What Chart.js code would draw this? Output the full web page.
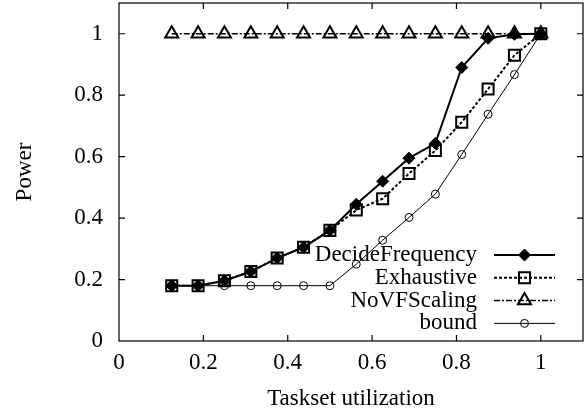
<!DOCTYPE html>
<html lang="en">
<head>
  <meta charset="UTF-8">
  <title>Power vs Taskset utilization</title>
  <script src="https://cdn.jsdelivr.net/npm/chart.js"></script>
  <style>
    body { margin: 0; background: #fff; }
    #wrap { width: 588px; height: 414px; }
  </style>
</head>
<body>
<div id="wrap"><canvas id="powerChart"></canvas></div>

<script>
  const utilization = [0.125, 0.1875, 0.25, 0.3125, 0.375, 0.4375, 0.5, 0.5625, 0.625, 0.6875, 0.75, 0.8125, 0.875, 0.9375, 1.0];
  const decideFrequency = [0.18, 0.18, 0.196, 0.226, 0.27, 0.305, 0.36, 0.445, 0.52, 0.595, 0.643, 0.89, 0.985, 0.998, 1.0];
  const exhaustive = [0.18, 0.18, 0.196, 0.226, 0.27, 0.305, 0.36, 0.426, 0.463, 0.545, 0.62, 0.712, 0.82, 0.93, 1.0];
  const noVFScaling = [1, 1, 1, 1, 1, 1, 1, 1, 1, 1, 1, 1, 1, 1, 1];
  const bound = [0.18, 0.18, 0.18, 0.18, 0.18, 0.18, 0.18, 0.25, 0.328, 0.402, 0.478, 0.607, 0.738, 0.867, 1.0];
  const xTicks = [0, 0.2, 0.4, 0.6, 0.8, 1];
  const yTicks = [0, 0.2, 0.4, 0.6, 0.8, 1];

  const FONT = 'Liberation Serif, Times New Roman, serif';
  const pts = ys => utilization.map((x, i) => ({ x: x, y: ys[i] }));

  // gnuplot style box: frame plus inward ticks on all four sides
  const framePlugin = {
    id: 'frame',
    afterDatasetsDraw(chart) {
      const { ctx, chartArea: a, scales } = chart;
      ctx.save();
      ctx.strokeStyle = '#000';
      ctx.lineWidth = 1.2;
      ctx.strokeRect(a.left, a.top, a.right - a.left, a.bottom - a.top);
      const len = 6;
      ctx.beginPath();
      xTicks.slice(1).forEach(v => {
        const px = scales.x.getPixelForValue(v);
        ctx.moveTo(px, a.bottom); ctx.lineTo(px, a.bottom - len);
        ctx.moveTo(px, a.top); ctx.lineTo(px, a.top + len);
      });
      yTicks.slice(1).forEach(v => {
        const py = scales.y.getPixelForValue(v);
        ctx.moveTo(a.left, py); ctx.lineTo(a.left + len, py);
        ctx.moveTo(a.right, py); ctx.lineTo(a.right - len, py);
      });
      ctx.stroke();
      ctx.restore();
    }
  };

  // legend with text on the left and the line sample on the right
  const keyPlugin = {
    id: 'key',
    afterDatasetsDraw(chart) {
      const { ctx, chartArea: a } = chart;
      const textRight = a.right - 106;
      const x0 = a.right - 89, x1 = a.right - 28;
      let y = a.bottom - 86;
      ctx.save();
      ctx.font = '23px ' + FONT;
      ctx.textAlign = 'right';
      ctx.textBaseline = 'middle';
      chart.data.datasets.forEach(ds => {
        ctx.fillStyle = '#000';
        ctx.fillText(ds.label, textRight, y);
        ctx.strokeStyle = '#000';
        ctx.lineWidth = ds.borderWidth;
        ctx.setLineDash(ds.borderDash || []);
        ctx.beginPath();
        ctx.moveTo(x0, y); ctx.lineTo(x1, y);
        ctx.stroke();
        ctx.setLineDash([]);
        ctx.lineWidth = ds.pointBorderWidth;
        ctx.fillStyle = ds.pointBackgroundColor;
        Chart.helpers.drawPoint(ctx, {
          pointStyle: ds.pointStyle, radius: ds.pointRadius, rotation: 0, borderWidth: ds.pointBorderWidth
        }, (x0 + x1) / 2, y);
        y += 22.8;
      });
      ctx.restore();
    }
  };

  const fmt = v => String(Math.round(v * 10) / 10);

  new Chart(document.getElementById('powerChart'), {
    type: 'line',
    data: {
      datasets: [
        { label: 'DecideFrequency', data: pts(decideFrequency), borderColor: '#000', borderWidth: 2,
          pointStyle: 'rectRot', pointRadius: 6, pointBackgroundColor: '#000', pointBorderColor: '#000', pointBorderWidth: 1 },
        { label: 'Exhaustive', data: pts(exhaustive), borderColor: '#000', borderWidth: 2, borderDash: [3, 2],
          pointStyle: 'rect', pointRadius: 7.8, pointBackgroundColor: 'rgba(0,0,0,0)', pointBorderColor: '#000', pointBorderWidth: 2 },
        { label: 'NoVFScaling', data: pts(noVFScaling), borderColor: '#000', borderWidth: 1.5, borderDash: [6, 2, 2, 2],
          pointStyle: 'triangle', pointRadius: 7.5, pointBackgroundColor: 'rgba(0,0,0,0)', pointBorderColor: '#000', pointBorderWidth: 2 },
        { label: 'bound', data: pts(bound), borderColor: '#000', borderWidth: 1,
          pointStyle: 'circle', pointRadius: 4, pointBackgroundColor: 'rgba(0,0,0,0)', pointBorderColor: '#000', pointBorderWidth: 1 }
      ]
    },
    options: {
      responsive: true,
      maintainAspectRatio: false,
      animation: false,
      layout: { autoPadding: false, padding: { top: 3, right: 5, left: 0, bottom: 0 } },
      plugins: { legend: { display: false }, tooltip: { enabled: false } },
      elements: { line: { tension: 0 } },
      scales: {
        x: {
          type: 'linear', min: 0, max: 1.1,
          afterBuildTicks: s => { s.ticks = xTicks.map(v => ({ value: v })); },
          afterFit: s => { s.height = 73; s.paddingLeft = 0; s.paddingRight = 0; },
          grid: { display: false, drawTicks: false },
          border: { display: false },
          ticks: { padding: 8, color: '#000', font: { family: FONT, size: 23 }, callback: fmt },
          title: { display: true, text: 'Taskset utilization', color: '#000',
                   font: { family: FONT, size: 23 }, padding: { top: 0, bottom: 1 } }
        },
        y: {
          min: 0, max: 1.1,
          afterBuildTicks: s => { s.ticks = yTicks.map(v => ({ value: v })); },
          afterFit: s => { s.width = 119; s.paddingTop = 0; s.paddingBottom = 0; },
          grid: { display: false, drawTicks: false },
          border: { display: false },
          ticks: { padding: 16, color: '#000', font: { family: FONT, size: 23 }, callback: fmt },
          title: { display: true, text: 'Power', color: '#000',
                   font: { family: FONT, size: 23 }, padding: { top: 11, bottom: 0 } }
        }
      }
    },
    plugins: [framePlugin, keyPlugin]
  });
</script>
</body>
</html>
